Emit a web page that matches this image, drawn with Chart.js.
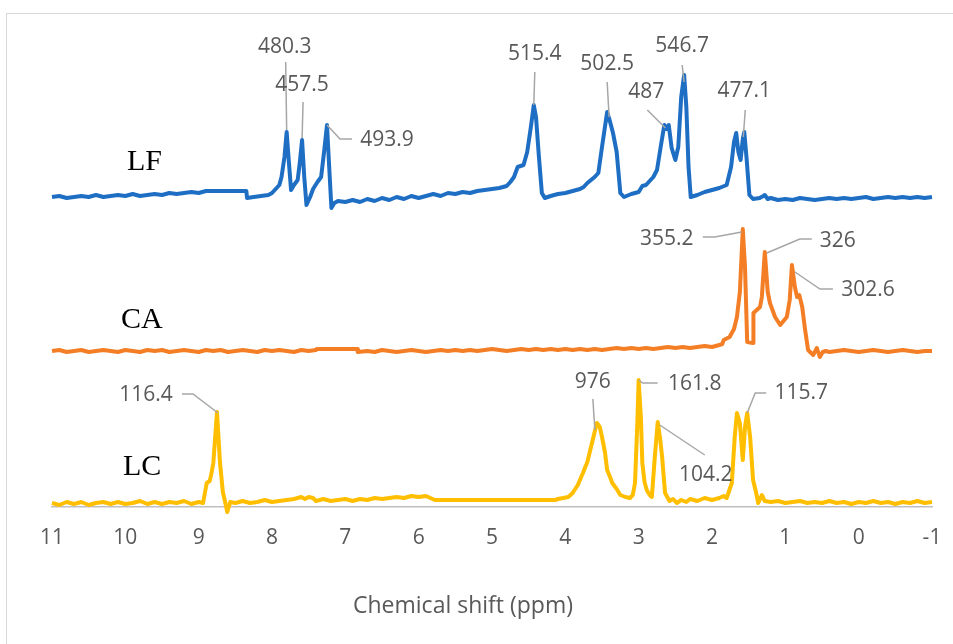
<!DOCTYPE html>
<html>
<head>
<meta charset="utf-8">
<script src="https://cdn.jsdelivr.net/npm/chart.js@4.4.1/dist/chart.umd.min.js"></script>
<style>
  html, body { margin: 0; padding: 0; background: #fff; overflow: hidden; width: 953px; height: 644px; }
  #frame { position: absolute; left: 6px; top: 13px; width: 1000px; height: 700px; border: 1px solid #d9d9d9; box-sizing: border-box; }
  #wrap { position: absolute; left: 0; top: 0; width: 953px; height: 644px; }
</style>
</head>
<body>
<div id="frame"></div>
<div id="wrap"><canvas id="c" width="953" height="644"></canvas></div>
<script>
// Chemical shift axis (ppm), drawn high-to-low
const PPM_TICKS = [11, 10, 9, 8, 7, 6, 5, 4, 3, 2, 1, 0, -1];
const AXIS_TITLE = 'Chemical shift (ppm)';

// Stacked 1H NMR traces: [chemical shift (ppm), plotted intensity]
const LF_TRACE = [
  [11.0,310],[10.9,311],[10.8,309],[10.7,310],[10.6,311],[10.5,310],[10.4,312],[10.3,310],[10.2,311],[10.1,312],
  [10.0,311],[9.9,313],[9.8,311],[9.7,312],[9.6,313],[9.5,312],[9.4,314],[9.3,313],[9.2,314],[9.1,315],[9.0,314],
  [8.9,316],[8.85,316],[8.35,316],[8.34,309],[8.25,310],[8.15,311],[8.05,312],[8.0,314],[7.95,318],[7.90,322],
  [7.87,330],[7.83,350],[7.80,375],[7.77,345],[7.74,317],[7.70,322],[7.65,327],[7.62,345],[7.59,367],[7.56,330],
  [7.53,302],[7.48,310],[7.44,318],[7.38,325],[7.33,330],[7.29,355],[7.25,382],[7.22,340],[7.19,299],[7.15,304],
  [7.10,306],[7.0,305],[6.9,307],[6.8,305],[6.7,308],[6.6,306],[6.5,309],[6.4,307],[6.3,310],[6.2,308],[6.1,311],
  [6.0,309],[5.9,311],[5.8,313],[5.7,311],[5.6,314],[5.5,313],[5.4,315],[5.3,314],[5.2,316],[5.1,317],[5.0,318],
  [4.9,319],[4.8,321],[4.75,325],[4.7,330],[4.65,340],[4.57,342],[4.52,355],[4.47,380],[4.43,402],[4.40,390],
  [4.36,350],[4.32,314],[4.28,309],[4.2,311],[4.1,313],[4.0,314],[3.9,316],[3.8,318],[3.75,320],[3.7,324],[3.6,330],
  [3.55,334],[3.5,360],[3.46,380],[3.43,395],[3.40,388],[3.35,374],[3.30,355],[3.25,314],[3.20,310],[3.1,313],
  [3.0,315],[2.95,321],[2.9,322],[2.85,326],[2.8,330],[2.75,337],[2.70,360],[2.65,382],[2.62,378],[2.59,382],
  [2.55,359],[2.50,347],[2.46,360],[2.42,410],[2.38,432],[2.35,400],[2.32,340],[2.29,310],[2.2,312],[2.1,315],
  [2.0,317],[1.9,319],[1.80,322],[1.74,340],[1.70,365],[1.67,374],[1.64,355],[1.61,347],[1.58,368],[1.56,375],
  [1.53,350],[1.49,312],[1.44,308],[1.35,309],[1.30,311],[1.28,312],[1.24,308],[1.2,309],[1.1,307],[1.0,308],
  [0.9,307],[0.8,309],[0.7,308],[0.6,307],[0.5,308],[0.4,309],[0.3,308],[0.2,309],[0.1,308],[0.0,309],[-0.1,310],
  [-0.2,308],[-0.3,309],[-0.4,310],[-0.5,309],[-0.6,310],[-0.7,309],[-0.8,310],[-0.9,309],[-1.0,310]
];

const CA_TRACE = [
  [11.0,156],[10.9,157],[10.8,155],[10.7,156],[10.6,157],[10.5,155],[10.4,156],[10.3,157],[10.2,156],[10.1,155],
  [10.0,157],[9.9,156],[9.8,155],[9.7,157],[9.6,156],[9.5,157],[9.4,155],[9.3,156],[9.2,157],[9.1,156],[9.0,155],
  [8.9,157],[8.8,156],[8.7,157],[8.6,155],[8.5,156],[8.4,157],[8.3,156],[8.2,155],[8.1,157],[8.0,156],[7.9,157],
  [7.8,156],[7.7,155],[7.6,157],[7.5,156],[7.4,157],[7.39,158],[6.84,158],[6.83,155],[6.7,156],[6.6,155],[6.5,157],
  [6.4,156],[6.3,155],[6.2,156],[6.1,157],[6.0,156],[5.9,155],[5.8,156],[5.7,157],[5.6,156],[5.5,157],[5.4,156],
  [5.3,157],[5.2,156],[5.1,157],[5.0,158],[4.9,157],[4.8,156],[4.7,157],[4.6,158],[4.5,157],[4.4,158],[4.3,157],
  [4.2,158],[4.1,157],[4.0,158],[3.9,157],[3.8,158],[3.7,157],[3.6,158],[3.5,157],[3.4,158],[3.3,159],[3.2,158],
  [3.1,159],[3.0,158],[2.9,159],[2.8,158],[2.7,159],[2.6,160],[2.5,159],[2.4,160],[2.3,159],[2.2,160],[2.1,161],
  [2.0,160],[1.90,162],[1.86,163],[1.84,167],[1.76,170],[1.70,178],[1.66,190],[1.62,215],[1.58,278],[1.55,240],
  [1.52,165],[1.44,164],[1.435,194],[1.345,200],[1.32,210],[1.28,255],[1.24,215],[1.21,204],[1.14,190],[1.07,182],
  [0.98,190],[0.94,207],[0.91,242],[0.87,220],[0.84,210],[0.81,212],[0.77,200],[0.73,177],[0.69,157],[0.62,152],
  [0.57,159],[0.53,150],[0.49,155],[0.45,156],[0.4,155],[0.3,156],[0.2,157],[0.1,156],[0.0,155],[-0.1,156],
  [-0.2,157],[-0.3,156],[-0.4,155],[-0.5,156],[-0.6,157],[-0.7,156],[-0.8,155],[-0.9,156],[-1.0,156]
];

const LC_TRACE = [
  [11.0,4],[10.9,2],[10.8,5],[10.7,3],[10.6,5],[10.5,2],[10.4,4],[10.3,5],[10.2,3],[10.1,5],[10.0,3],[9.9,4],
  [9.8,6],[9.7,3],[9.6,5],[9.5,3],[9.4,5],[9.3,4],[9.2,6],[9.1,3],[9.0,5],[8.94,4],[8.89,24],[8.85,26],[8.83,32],
  [8.80,44],[8.75,95],[8.71,45],[8.67,15],[8.63,2],[8.61,-5],[8.57,5],[8.5,4],[8.4,6],[8.3,4],[8.2,5],[8.1,7],
  [8.0,5],[7.9,6],[7.8,7],[7.7,8],[7.6,10],[7.55,8],[7.5,10],[7.44,9],[7.4,6],[7.3,8],[7.2,6],[7.1,7],[7.0,8],
  [6.9,6],[6.8,8],[6.7,7],[6.6,9],[6.5,8],[6.4,9],[6.3,10],[6.2,9],[6.1,11],[6.0,10],[5.9,11],[5.78,7],[4.14,7],
  [4.1,8],[4.03,9],[3.96,10],[3.90,14],[3.83,22],[3.76,34],[3.70,45],[3.66,57],[3.60,75],[3.57,84],[3.53,80],
  [3.50,70],[3.46,55],[3.43,37],[3.39,30],[3.36,24],[3.30,18],[3.25,12],[3.18,10],[3.12,9],[3.08,12],[3.05,24],
  [3.02,80],[3.00,127],[2.97,90],[2.95,44],[2.92,25],[2.89,17],[2.85,12],[2.82,10],[2.78,50],[2.74,85],[2.71,70],
  [2.68,50],[2.64,14],[2.58,6],[2.53,8],[2.48,4],[2.42,7],[2.35,5],[2.3,8],[2.2,6],[2.1,9],[2.0,7],[1.90,9],
  [1.84,11],[1.80,9],[1.73,24],[1.69,70],[1.66,94],[1.62,84],[1.58,47],[1.55,80],[1.52,94],[1.48,70],[1.44,27],
  [1.40,15],[1.37,4],[1.32,12],[1.28,6],[1.2,5],[1.1,6],[1.0,4],[0.9,5],[0.8,6],[0.7,4],[0.6,5],[0.5,4],[0.4,6],
  [0.3,4],[0.2,5],[0.1,3],[0.0,5],[-0.1,4],[-0.2,6],[-0.3,4],[-0.4,5],[-0.5,3],[-0.6,5],[-0.7,4],[-0.8,6],
  [-0.9,4],[-1.0,5]
];

// Annotated peaks: position on the trace and the value printed next to it
const LF_PEAK_PPM  = [7.80, 7.59, 7.25, 4.43, 3.43, 2.65, 2.38, 1.56];
const LF_PEAK_TEXT = ['480.3', '457.5', '493.9', '515.4', '502.5', '487', '546.7', '477.1'];
const CA_PEAK_PPM  = [1.58, 1.28, 0.91];
const CA_PEAK_TEXT = ['355.2', '326', '302.6'];
const LC_PEAK_PPM  = [8.75, 3.57, 3.00, 2.74, 1.52];
const LC_PEAK_TEXT = ['116.4', '976', '161.8', '104.2', '115.7'];

const SAMPLE_NAMES = ['LF', 'CA', 'LC'];

// ---- presentation ----
const COLORS = { LF: '#1e6fc4', CA: '#f47e26', LC: '#ffbf00' };

// Callout geometry in pixels relative to the peak point: label centre and leader path
const CALLOUT_LAYOUT = {
  LF: [
    { text: [-2, -85], path: [[-1, -70], [0, -2]] },
    { text: [0, -55],  path: [[1, -38], [0, -2]] },
    { text: [60, 15],  path: [[0, 0], [13, 14], [25, 14]] },
    { text: [1, -51],  path: [[1, -33], [0, 0]] },
    { text: [0, -48],  path: [[0, -30], [2, 5]] },
    { text: [-18, -33], path: [[-17, -15], [1, 3]] },
    { text: [-2, -29], path: [[-2, -10], [0, 7]] },
    { text: [0, -41],  path: [[1, -22], [-1, 5]] }
  ],
  CA: [
    { text: [-76, 10], path: [[-40, 8], [-28, 8], [-1, 3]] },
    { text: [73, -11], path: [[2, 1], [35, -13], [47, -13]] },
    { text: [76, 25],  path: [[3, 7], [28, 24], [41, 24]] }
  ],
  LC: [
    { text: [-71, -17], path: [[-35, -18], [-24, -18], [1, 1]] },
    { text: [-4, -41],  path: [[-4, -24], [-2, 7]] },
    { text: [56, 4],    path: [[0, 0], [4, 3], [19, 3]] },
    { text: [48, 53],   path: [[2, 3], [47, 33]] },
    { text: [54, -20],  path: [[0, 0], [8, -20], [19, -20]] }
  ]
};

// Sample name placement (left edge, text baseline) in canvas pixels
const NAME_POS = { LF: [127, 170], CA: [121, 328], LC: [123, 475] };
const TITLE_POS = [463, 606];

const SERIES = [
  { name: 'LF', trace: LF_TRACE, peaks: LF_PEAK_PPM, texts: LF_PEAK_TEXT },
  { name: 'CA', trace: CA_TRACE, peaks: CA_PEAK_PPM, texts: CA_PEAK_TEXT },
  { name: 'LC', trace: LC_TRACE, peaks: LC_PEAK_PPM, texts: LC_PEAK_TEXT }
];

const SANS = '"Open Sans", "Noto Sans", sans-serif';

const annotationPlugin = {
  id: 'peakCallouts',
  afterDatasetsDraw(chart) {
    const { ctx, scales: { x, y } } = chart;
    ctx.save();
    SERIES.forEach(s => {
      s.peaks.forEach((ppm, k) => {
        const pt = s.trace.find(p => p[0] === ppm);
        const ax = x.getPixelForValue(pt[0]);
        const ay = y.getPixelForValue(pt[1]);
        const lay = CALLOUT_LAYOUT[s.name][k];
        ctx.strokeStyle = '#a6a6a6';
        ctx.lineWidth = 1.5;
        ctx.beginPath();
        lay.path.forEach(([dx, dy], i) => {
          if (i === 0) ctx.moveTo(ax + dx, ay + dy); else ctx.lineTo(ax + dx, ay + dy);
        });
        ctx.stroke();
        ctx.fillStyle = '#595959';
        ctx.font = '21px ' + SANS;
        ctx.textAlign = 'center';
        ctx.textBaseline = 'middle';
        ctx.fillText(s.texts[k], ax + lay.text[0], ay + lay.text[1]);
      });
    });
    // sample names
    ctx.fillStyle = '#000';
    ctx.font = '30px "Liberation Serif", "Times New Roman", serif';
    ctx.textAlign = 'left';
    ctx.textBaseline = 'alphabetic';
    SAMPLE_NAMES.forEach(n => ctx.fillText(n, NAME_POS[n][0], NAME_POS[n][1]));
    // axis title
    ctx.fillStyle = '#595959';
    ctx.font = '23px ' + SANS;
    ctx.textAlign = 'center';
    ctx.textBaseline = 'middle';
    ctx.fillText(AXIS_TITLE, TITLE_POS[0], TITLE_POS[1]);
    ctx.restore();
  }
};

new Chart(document.getElementById('c'), {
  type: 'line',
  data: {
    datasets: SERIES.map(s => ({
      label: s.name,
      data: s.trace.map(([px, v]) => ({ x: px, y: v })),
      borderColor: COLORS[s.name],
      backgroundColor: COLORS[s.name],
      borderWidth: 4,
      pointRadius: 0,
      tension: 0,
      fill: false,
      clip: false,
      borderJoinStyle: 'round'
    }))
  },
  options: {
    responsive: false,
    animation: false,
    events: [],
    layout: { padding: { left: 52, right: 21, top: 17, bottom: 0 } },
    plugins: { legend: { display: false }, tooltip: { enabled: false } },
    scales: {
      x: {
        type: 'linear',
        reverse: true,
        min: PPM_TICKS[PPM_TICKS.length - 1],
        max: PPM_TICKS[0],
        afterBuildTicks: scale => { scale.ticks = PPM_TICKS.map(v => ({ value: v })); },
        afterFit: scale => { scale.height = 137; scale.paddingLeft = 0; scale.paddingRight = 0; },
        grid: { display: false, drawTicks: false },
        border: { display: true, color: '#bfbfbf', width: 1.5 },
        ticks: {
          padding: 18,
          color: '#595959',
          font: { family: SANS, size: 21 },
          callback: v => String(v)
        }
      },
      y: { display: false, min: 0, max: 490 }
    }
  },
  plugins: [annotationPlugin]
});
</script>
</body>
</html>
